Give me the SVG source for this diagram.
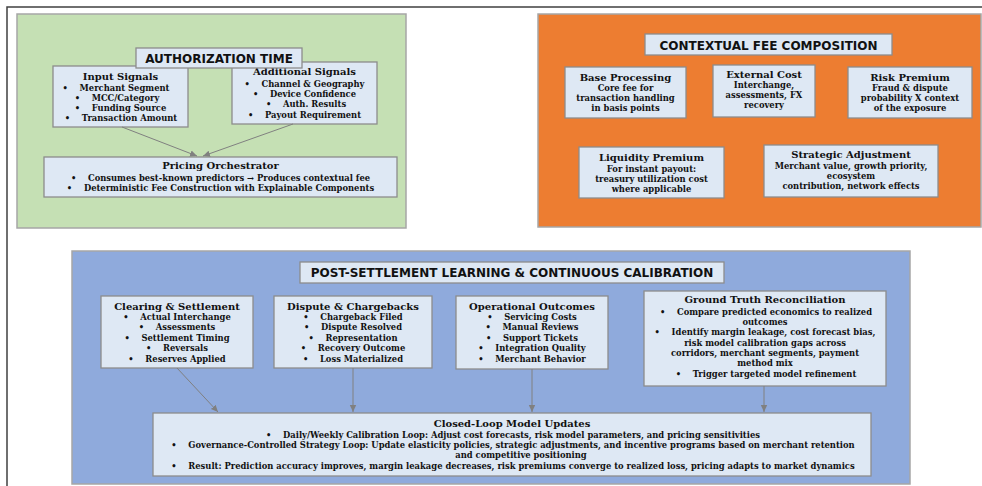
<svg xmlns="http://www.w3.org/2000/svg" width="982" height="486" viewBox="0 0 982 486">
<style>
.panel{stroke:#A6A6A6;stroke-width:1.5}
.box{fill:#DEE8F4;stroke:#8C8C8C;stroke-width:1.3}
.cap{font-family:"DejaVu Sans",sans-serif;font-weight:bold;font-size:12px;fill:#111;text-anchor:middle}
.h{font-family:"DejaVu Serif",serif;font-weight:bold;font-size:10px;fill:#111;text-anchor:middle}
.t{font-family:"DejaVu Serif",serif;font-weight:bold;font-size:8.4px;fill:#111;text-anchor:middle}
.conn{stroke:#808080;stroke-width:1;fill:none;marker-end:url(#ah)}
</style>
<defs>
<marker id="ah" markerWidth="8" markerHeight="8" refX="7" refY="4" orient="auto" markerUnits="userSpaceOnUse">
<path d="M0,0.8 L7,4 L0,7.2 Z" fill="#808080"/>
</marker>
</defs>
<rect x="0" y="0" width="982" height="486" fill="#FFFFFF"/>
<path d="M7,486 V7 H982" fill="none" stroke="#404040" stroke-width="1.5"/>

<g id="panel-authorization">
<rect class="panel" x="17" y="14" width="389" height="214" fill="#C5E0B4"/>
</g>
<g id="input-signals">
<rect class="box" x="53" y="66" width="135" height="61"/>
<text class="h" x="120.5" y="80">Input Signals</text>
<text class="t" x="116" y="91">•&#160;&#160;&#160;&#160;Merchant Segment</text>
<text class="t" x="117" y="101">•&#160;&#160;&#160;&#160;MCC/Category</text>
<text class="t" x="120.5" y="111">•&#160;&#160;&#160;&#160;Funding Source</text>
<text class="t" x="121" y="121">•&#160;&#160;&#160;&#160;Transaction Amount</text>
</g>
<g id="additional-signals">
<rect class="box" x="232" y="62" width="145" height="62"/>
<text class="h" x="304.5" y="75">Additional Signals</text>
<text class="t" x="304.5" y="87">•&#160;&#160;&#160;&#160;Channel &amp; Geography</text>
<text class="t" x="304.5" y="97">•&#160;&#160;&#160;&#160;Device Confidence</text>
<text class="t" x="306" y="107">•&#160;&#160;&#160;&#160;Auth. Results</text>
<text class="t" x="304.5" y="118">•&#160;&#160;&#160;&#160;Payout Requirement</text>
</g>
<g id="title-authorization">
<rect class="box" x="136" y="48" width="166" height="20"/>
<text class="cap" x="219" y="63">AUTHORIZATION TIME</text>
</g>
<g id="pricing-orchestrator">
<rect class="box" x="44" y="157" width="353" height="40"/>
<text class="h" x="220.5" y="169">Pricing Orchestrator</text>
<text class="t" x="220.5" y="181">•&#160;&#160;&#160;&#160;Consumes best-known predictors → Produces contextual fee</text>
<text class="t" x="220.5" y="191">•&#160;&#160;&#160;&#160;Deterministic Fee Construction with Explainable Components</text>
</g>

<g id="panel-fee">
<rect class="panel" x="538" y="14" width="443" height="213" fill="#ED7D31"/>
</g>
<g id="title-fee">
<rect class="box" x="645" y="34" width="247" height="21"/>
<text class="cap" x="768.5" y="50">CONTEXTUAL FEE COMPOSITION</text>
</g>
<g id="base-processing">
<rect class="box" x="565" y="67" width="121" height="51"/>
<text class="h" x="625.5" y="81">Base Processing</text>
<text class="t" x="625.5" y="91">Core fee for</text>
<text class="t" x="625.5" y="101">transaction handling</text>
<text class="t" x="625.5" y="111">in basis points</text>
</g>
<g id="external-cost">
<rect class="box" x="713" y="65" width="102" height="52"/>
<text class="h" x="764" y="78">External Cost</text>
<text class="t" x="764" y="88">Interchange,</text>
<text class="t" x="764" y="98">assessments, FX</text>
<text class="t" x="764" y="108">recovery</text>
</g>
<g id="risk-premium">
<rect class="box" x="848" y="67" width="124" height="51"/>
<text class="h" x="910" y="81">Risk Premium</text>
<text class="t" x="910" y="91">Fraud &amp; dispute</text>
<text class="t" x="910" y="101">probability X context</text>
<text class="t" x="910" y="111">of the exposure</text>
</g>
<g id="liquidity-premium">
<rect class="box" x="579" y="147" width="145" height="51"/>
<text class="h" x="651.5" y="161">Liquidity Premium</text>
<text class="t" x="651.5" y="172">For instant payout:</text>
<text class="t" x="651.5" y="182">treasury utilization cost</text>
<text class="t" x="651.5" y="192">where applicable</text>
</g>
<g id="strategic-adjustment">
<rect class="box" x="764" y="145" width="174" height="52"/>
<text class="h" x="851" y="158">Strategic Adjustment</text>
<text class="t" x="851" y="169">Merchant value, growth priority,</text>
<text class="t" x="851" y="179">ecosystem</text>
<text class="t" x="851" y="189">contribution, network effects</text>
</g>

<g id="panel-post">
<rect class="panel" x="72" y="251" width="838" height="233" fill="#8FAADC"/>
</g>
<g id="title-post">
<rect class="box" x="300" y="262" width="424" height="21"/>
<text class="cap" x="512" y="277">POST-SETTLEMENT LEARNING &amp; CONTINUOUS CALIBRATION</text>
</g>
<g id="clearing-settlement">
<rect class="box" x="101" y="296" width="152" height="72"/>
<text class="h" x="177" y="310">Clearing &amp; Settlement</text>
<text class="t" x="177" y="320">•&#160;&#160;&#160;&#160;Actual Interchange</text>
<text class="t" x="177" y="330">•&#160;&#160;&#160;&#160;Assessments</text>
<text class="t" x="177" y="341">•&#160;&#160;&#160;&#160;Settlement Timing</text>
<text class="t" x="177" y="351">•&#160;&#160;&#160;&#160;Reversals</text>
<text class="t" x="177" y="362">•&#160;&#160;&#160;&#160;Reserves Applied</text>
</g>
<g id="dispute-chargebacks">
<rect class="box" x="274" y="296" width="158" height="72"/>
<text class="h" x="353" y="310">Dispute &amp; Chargebacks</text>
<text class="t" x="353" y="320">•&#160;&#160;&#160;&#160;Chargeback Filed</text>
<text class="t" x="353" y="330">•&#160;&#160;&#160;&#160;Dispute Resolved</text>
<text class="t" x="353" y="341">•&#160;&#160;&#160;&#160;Representation</text>
<text class="t" x="353" y="351">•&#160;&#160;&#160;&#160;Recovery Outcome</text>
<text class="t" x="353" y="362">•&#160;&#160;&#160;&#160;Loss Materialized</text>
</g>
<g id="operational-outcomes">
<rect class="box" x="456" y="296" width="152" height="73"/>
<text class="h" x="532" y="310">Operational Outcomes</text>
<text class="t" x="532" y="320">•&#160;&#160;&#160;&#160;Servicing Costs</text>
<text class="t" x="532" y="330">•&#160;&#160;&#160;&#160;Manual Reviews</text>
<text class="t" x="532" y="341">•&#160;&#160;&#160;&#160;Support Tickets</text>
<text class="t" x="532" y="351">•&#160;&#160;&#160;&#160;Integration Quality</text>
<text class="t" x="532" y="362">•&#160;&#160;&#160;&#160;Merchant Behavior</text>
</g>
<g id="ground-truth">
<rect class="box" x="644" y="291" width="242" height="95"/>
<text class="h" x="765" y="303">Ground Truth Reconciliation</text>
<text class="t" x="766" y="315">•&#160;&#160;&#160;&#160;Compare predicted economics to realized</text>
<text class="t" x="765" y="325">outcomes</text>
<text class="t" x="765" y="335">•&#160;&#160;&#160;&#160;Identify margin leakage, cost forecast bias,</text>
<text class="t" x="765" y="346">risk model calibration gaps across</text>
<text class="t" x="765" y="356">corridors, merchant segments, payment</text>
<text class="t" x="765" y="366">method mix</text>
<text class="t" x="766" y="377">•&#160;&#160;&#160;&#160;Trigger targeted model refinement</text>
</g>
<g id="closed-loop">
<rect class="box" x="153" y="413" width="718" height="63"/>
<text class="h" x="512" y="427">Closed-Loop Model Updates</text>
<text class="t" x="513" y="438">•&#160;&#160;&#160;&#160;Daily/Weekly Calibration Loop: Adjust cost forecasts, risk model parameters, and pricing sensitivities</text>
<text class="t" x="513" y="448">•&#160;&#160;&#160;&#160;Governance-Controlled Strategy Loop: Update elasticity policies, strategic adjustments, and incentive programs based on merchant retention</text>
<text class="t" x="521" y="458">and competitive positioning</text>
<text class="t" x="513" y="469">•&#160;&#160;&#160;&#160;Result: Prediction accuracy improves, margin leakage decreases, risk premiums converge to realized loss, pricing adapts to market dynamics</text>
</g>

<g id="connectors">
<line class="conn" x1="122" y1="127" x2="197" y2="156"/>
<line class="conn" x1="293" y1="124" x2="203" y2="156"/>
<line class="conn" x1="177" y1="368" x2="218" y2="412"/>
<line class="conn" x1="353" y1="368" x2="353" y2="412"/>
<line class="conn" x1="532" y1="369" x2="532" y2="412"/>
<line class="conn" x1="764" y1="386" x2="764" y2="412"/>
</g>
</svg>
